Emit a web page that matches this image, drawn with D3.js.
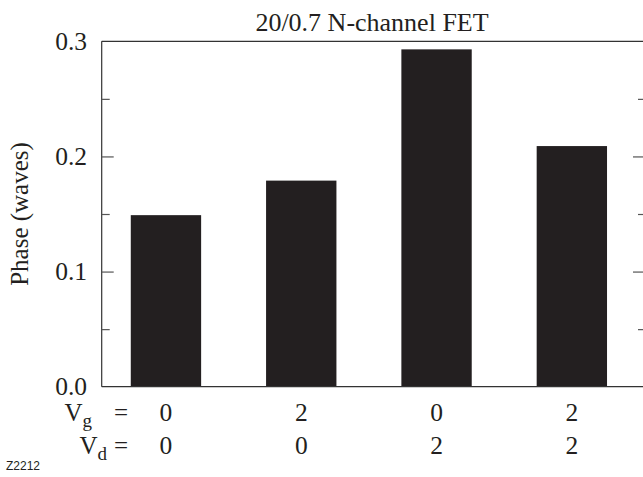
<!DOCTYPE html>
<html><head><meta charset="utf-8">
<script src="https://cdn.jsdelivr.net/npm/d3@7"></script>
<style>
html,body{margin:0;padding:0;background:#fff;}
svg{display:block;}
text{font-family:"Liberation Serif","Times New Roman",serif;fill:#231f20;}
</style></head>
<body>
<svg id="chart" width="643" height="477"></svg>
<script>
const categories = ["A","B","C","D"];
const phase = [0.149, 0.179, 0.293, 0.209];
const vg = ["0","2","0","2"];
const vd = ["0","0","2","2"];
const majorTicks = [0, 0.1, 0.2, 0.3];
const minorTicks = [0.05, 0.15, 0.25];
const tickLabels = ["0.0","0.1","0.2","0.3"];
const title = "20/0.7 N-channel FET";
const yLabel = "Phase (waves)";
const figId = "Z2212";

(function(){
const svg = d3.select("#chart");
const pL = 101.7, pR = 645, pT = 41.3, pB = 386.7;
const ink = "#231f20";

const y = d3.scaleLinear().domain([0, 0.3]).range([pB, pT]);
const step = 135.3;
const x = d3.scaleBand().domain(categories)
  .range([98.3, 98.3 + step * categories.length])
  .paddingInner(0.48).paddingOuter(0.24);

// bars
svg.append("g").selectAll("rect").data(categories).join("rect")
  .attr("x", d => x(d)).attr("width", x.bandwidth())
  .attr("y", (d,i) => y(phase[i])).attr("height", (d,i) => pB - y(phase[i]))
  .attr("fill", ink);

// frame lines
const frame = svg.append("g").attr("stroke", "#333").attr("stroke-width", 1.2).attr("fill", "none");
frame.append("line").attr("x1", pL).attr("x2", pR).attr("y1", pT).attr("y2", pT);
frame.append("line").attr("x1", pL).attr("x2", pR).attr("y1", pB).attr("y2", pB);
frame.append("line").attr("x1", pL).attr("x2", pL).attr("y1", pT).attr("y2", pB);

function ticks(axisFn, vals, size, tx) {
  const g = svg.append("g").attr("transform", `translate(${tx},0)`)
    .call(axisFn(y).tickValues(vals).tickSize(size).tickFormat(""));
  g.select(".domain").remove();
  g.selectAll(".tick line").attr("stroke", "#555").attr("stroke-width", 1.2);
}
ticks(d3.axisRight, majorTicks.filter(v => v > 0 && v < 0.3), 12, pL);
ticks(d3.axisRight, minorTicks, 8, pL);
ticks(d3.axisLeft, majorTicks.filter(v => v > 0 && v < 0.3), 12, pR);
ticks(d3.axisLeft, minorTicks, 7, pR);

// tick labels
svg.append("g").selectAll("text").data(majorTicks).join("text")
  .attr("x", 87).attr("y", d => y(d)).attr("dy", "0.33em")
  .attr("text-anchor", "end").attr("font-size", 25.5)
  .text((d,i) => tickLabels[i]);

// title
svg.append("text").attr("x", 372).attr("y", 30.5).attr("text-anchor", "middle")
  .attr("font-size", 26).text(title);

// y label
svg.append("text").attr("transform", `translate(27.5,${(pT+pB)/2}) rotate(-90)`)
  .attr("text-anchor", "middle").attr("font-size", 25).text(yLabel);

// category rows
function rowLabel(yPos, main, sub, subEnd) {
  const t = svg.append("text").attr("x", subEnd).attr("y", yPos).attr("text-anchor", "end").attr("font-size", 25);
  t.append("tspan").text(main);
  t.append("tspan").attr("font-size", 19).attr("dy", 6).text(sub);
  svg.append("text").attr("x", 128).attr("y", yPos).attr("text-anchor", "end")
    .attr("font-size", 25).text("=");
}
rowLabel(421, "V", "g", 92);
rowLabel(454, "V", "d", 107);

svg.append("g").selectAll("text").data(categories).join("text")
  .attr("x", d => x(d) + x.bandwidth()/2).attr("y", 421)
  .attr("text-anchor", "middle").attr("font-size", 25.5)
  .text((d,i) => vg[i]);
svg.append("g").selectAll("text").data(categories).join("text")
  .attr("x", d => x(d) + x.bandwidth()/2).attr("y", 454)
  .attr("text-anchor", "middle").attr("font-size", 25.5)
  .text((d,i) => vd[i]);

svg.append("text").attr("x", 6).attr("y", 470)
  .style("font-family", "'Liberation Sans', Arial, sans-serif")
  .attr("font-size", 12).text(figId);
})();
</script>
</body></html>
